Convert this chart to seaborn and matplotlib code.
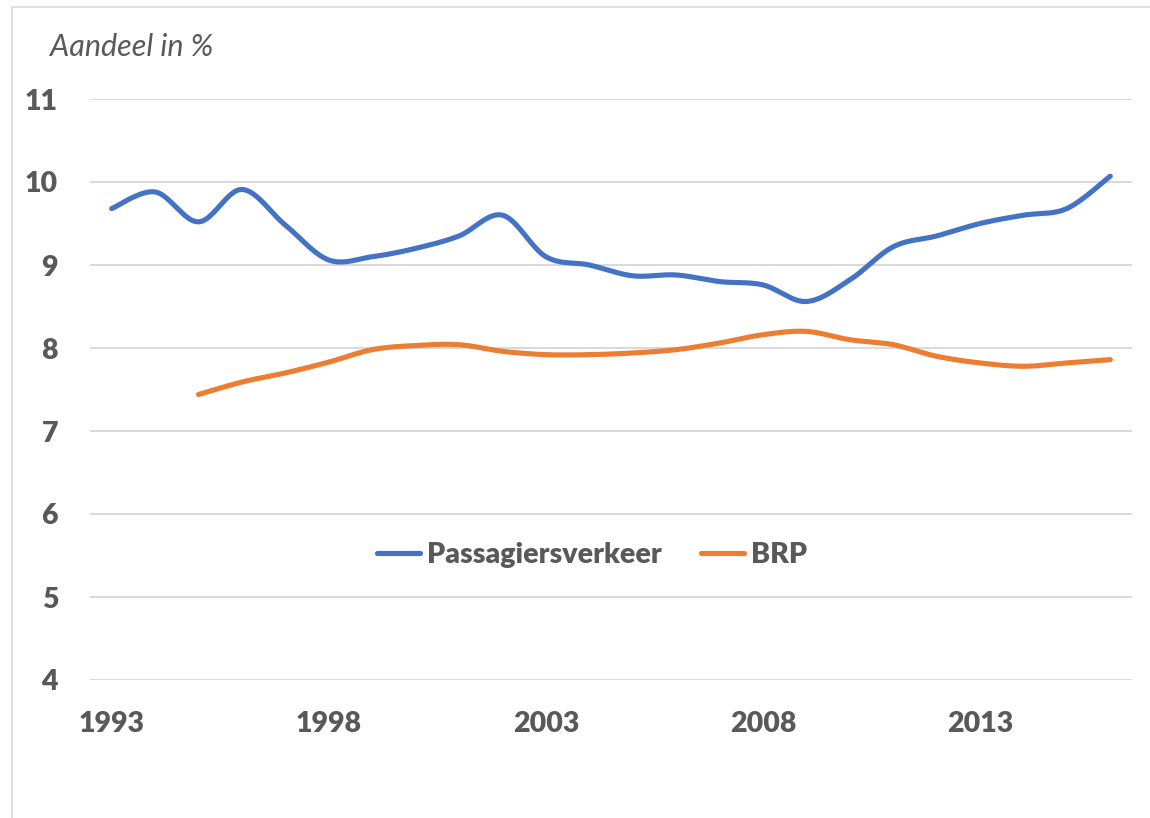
import numpy as np
import pandas as pd
import seaborn as sns
import matplotlib.pyplot as plt

# data
years = list(range(1993, 2017))
passagiers = [9.68, 9.88, 9.52, 9.91, 9.48, 9.06, 9.10, 9.20, 9.35, 9.60, 9.10, 9.00,
              8.87, 8.88, 8.80, 8.76, 8.56, 8.82, 9.22, 9.35, 9.50, 9.60, 9.68, 10.07]
brp_years = list(range(1995, 2017))
brp = [7.44, 7.59, 7.70, 7.83, 7.98, 8.03, 8.04, 7.96, 7.92, 7.92, 7.94, 7.98,
       8.06, 8.16, 8.20, 8.10, 8.04, 7.90, 7.82, 7.78, 7.82, 7.86]
xticks = [1993, 1998, 2003, 2008, 2013]
yticks = [4, 5, 6, 7, 8, 9, 10, 11]

BLUE = "#4472C4"
ORANGE = "#ED7D31"
GREY = "#595959"


def smooth(xs, ys, n=24):
    # excel style smoothed line (bezier through every point)
    pts = np.column_stack([xs, ys]).astype(float)
    pad = np.vstack([pts[0], pts, pts[-1]])
    t = np.linspace(0, 1, n, endpoint=False)[:, None]
    out = []
    for i in range(len(pts) - 1):
        p0, p1, p2, p3 = pad[i], pad[i + 1], pad[i + 2], pad[i + 3]
        c1 = p1 + (p2 - p0) / 6
        c2 = p2 - (p3 - p1) / 6
        out.append((1 - t) ** 3 * p1 + 3 * (1 - t) ** 2 * t * c1
                   + 3 * (1 - t) * t ** 2 * c2 + t ** 3 * p2)
    out.append(pts[-1:])
    return np.vstack(out)


frames = []
for name, xs, ys in [("Passagiersverkeer", years, passagiers), ("BRP", brp_years, brp)]:
    s = smooth(xs, ys)
    frames.append(pd.DataFrame({"jaar": s[:, 0], "aandeel": s[:, 1], "reeks": name}))
df = pd.concat(frames, ignore_index=True)

sns.set_theme(style="white")
plt.rcParams["font.family"] = ["Lato", "DejaVu Sans"]

fig = plt.figure(figsize=(11.5, 8.18), dpi=100)
ax = fig.add_axes([90 / 1150, 1 - 680 / 818, 1042 / 1150, 581 / 818])

sns.lineplot(data=df, x="jaar", y="aandeel", hue="reeks", sort=False, estimator=None,
             palette={"Passagiersverkeer": BLUE, "BRP": ORANGE}, linewidth=3.7,
             ax=ax, legend=True)
for ln in ax.lines:
    ln.set_solid_capstyle("round")

ax.set_xlim(1992.5, 2016.5)
ax.set_ylim(4, 11)
ax.set_yticks(yticks)
ax.set_xticks(xticks)
ax.set_yticklabels([str(v) for v in yticks])
ax.set_xticklabels([str(v) for v in xticks])
ax.grid(axis="y", color="#D9D9D9", linewidth=1.4)
ax.grid(axis="x", visible=False)
ax.tick_params(axis="y", length=0, pad=23, labelsize=20.5, labelcolor=GREY)
ax.tick_params(axis="x", length=0, pad=22, labelsize=20.5, labelcolor=GREY)
for lab in ax.get_xticklabels() + ax.get_yticklabels():
    lab.set_fontweight("heavy")
for sp in ax.spines.values():
    sp.set_visible(False)
ax.set_xlabel("")
ax.set_ylabel("")

fig.text(50 / 1150, 1 - 47 / 818, "Aandeel in %", fontsize=22, style="italic",
         color=GREY, va="center", ha="left")

leg = ax.legend(loc="center", bbox_to_anchor=(0.482, 0.215), ncol=2, frameon=False,
                handlelength=1.5, columnspacing=1.4, handletextpad=0.25,
                prop={"weight": "heavy", "size": 20.5})
for txt in leg.get_texts():
    txt.set_color(GREY)
for h in leg.get_lines():
    h.set_linewidth(3.7)

# light frame around the chart
fig.add_artist(plt.Line2D([12 / 1150, 12 / 1150], [0, 1 - 7 / 818], color="#D9D9D9",
                          linewidth=1.2, transform=fig.transFigure))
fig.add_artist(plt.Line2D([12 / 1150, 1], [1 - 7 / 818, 1 - 7 / 818], color="#D9D9D9",
                          linewidth=1.2, transform=fig.transFigure))

fig.savefig("out.png", dpi=100, facecolor="white")
